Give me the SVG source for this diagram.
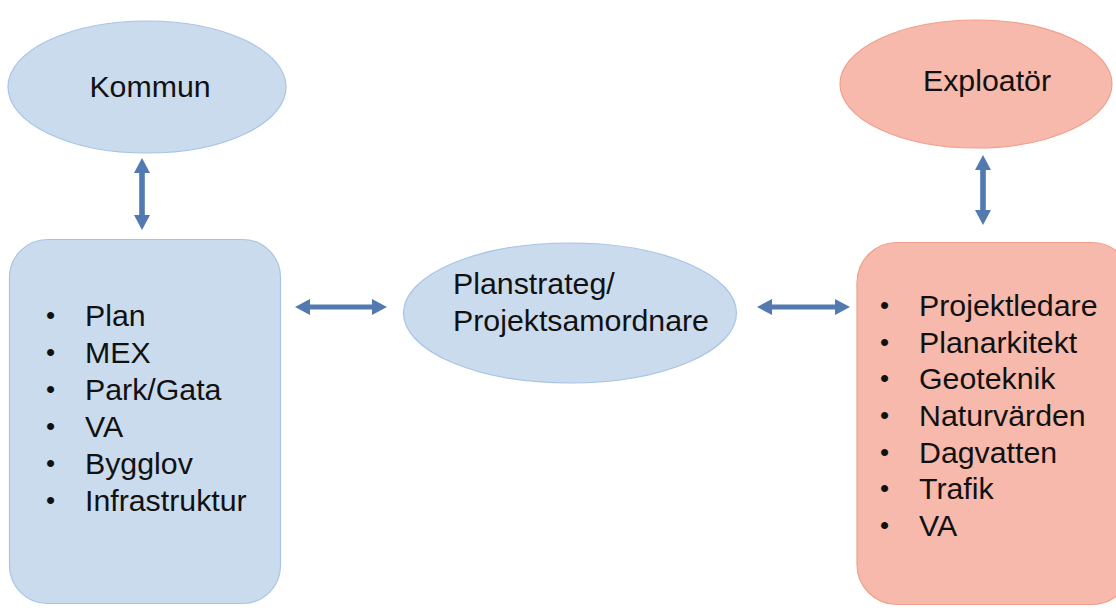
<svg xmlns="http://www.w3.org/2000/svg" width="1116" height="608" viewBox="0 0 1116 608">
  <defs>
    <style>
      .blue { fill: #CADBEE; stroke: #A9C3E5; stroke-width: 1.2; }
      .red { fill: #F6B9AB; stroke: #F19F8D; stroke-width: 1.2; }
      .t { font-family: "Liberation Sans", Arial, sans-serif; font-size: 30.3px; fill: #111111; }
      .b { font-family: "Liberation Sans", Arial, sans-serif; font-size: 26px; fill: #111111; }
      .arrow { fill: #5279B0; }
    </style>
  </defs>
  <rect width="1116" height="608" fill="#FFFFFF"/>

  <g id="kommun">
    <ellipse class="blue" cx="147" cy="87" rx="139" ry="66"/>
    <text class="t" x="150" y="97" text-anchor="middle">Kommun</text>
  </g>

  <g id="kommun-list">
    <rect class="blue" x="9.5" y="239.5" width="271" height="364" rx="38" ry="38"/>
    <g class="t">
      <text x="85" y="326">Plan</text>
      <text x="85" y="363">MEX</text>
      <text x="85" y="400">Park/Gata</text>
      <text x="85" y="437">VA</text>
      <text x="85" y="474">Bygglov</text>
      <text x="85" y="511">Infrastruktur</text>
    </g>
    <g class="b">
      <text x="46" y="324">•</text>
      <text x="46" y="361">•</text>
      <text x="46" y="398">•</text>
      <text x="46" y="435">•</text>
      <text x="46" y="472">•</text>
      <text x="46" y="509">•</text>
    </g>
  </g>

  <g id="planstrateg">
    <ellipse class="blue" cx="570" cy="313" rx="166.5" ry="70"/>
    <text class="t" x="453" y="294">Planstrateg/</text>
    <text class="t" x="453" y="331">Projektsamordnare</text>
  </g>

  <g id="exploator">
    <ellipse class="red" cx="976" cy="84" rx="136" ry="64"/>
    <text class="t" x="987" y="91" text-anchor="middle">Exploatör</text>
  </g>

  <g id="exploator-list">
    <rect class="red" x="857" y="242.5" width="275" height="362" rx="40" ry="40"/>
    <g class="t">
      <text x="919" y="316">Projektledare</text>
      <text x="919" y="352.7">Planarkitekt</text>
      <text x="919" y="389.3">Geoteknik</text>
      <text x="919" y="426">Naturvärden</text>
      <text x="919" y="462.7">Dagvatten</text>
      <text x="919" y="499.3">Trafik</text>
      <text x="919" y="536">VA</text>
    </g>
    <g class="b">
      <text x="880" y="314">•</text>
      <text x="880" y="350.7">•</text>
      <text x="880" y="387.3">•</text>
      <text x="880" y="424">•</text>
      <text x="880" y="460.7">•</text>
      <text x="880" y="497.3">•</text>
      <text x="880" y="534">•</text>
    </g>
  </g>

  <g id="connectors">
    <polygon class="arrow" points="142,158 150,173 144.8,173 144.8,215 150,215 142,230 134,215 139.2,215 139.2,173 134,173"/>
    <polygon class="arrow" points="983,155 991,170 985.8,170 985.8,210 991,210 983,225 975,210 980.2,210 980.2,170 975,170"/>
    <polygon class="arrow" points="295,307 310,299 310,304.5 372,304.5 372,299 387,307 372,315 372,309.5 310,309.5 310,315"/>
    <polygon class="arrow" points="757,307 772,299 772,304.5 835,304.5 835,299 850,307 835,315 835,309.5 772,309.5 772,315"/>
  </g>
</svg>
